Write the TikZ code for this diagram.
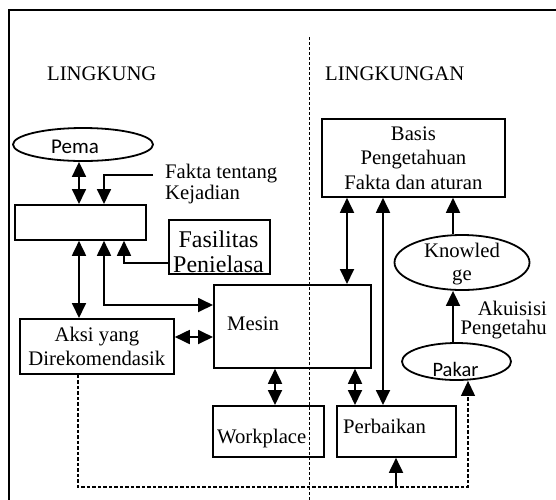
\documentclass[tikz,border=0pt]{standalone}
\usepackage{fontspec}
\setmainfont{Liberation Serif}
\newfontfamily\calfont{Carlito}
\usetikzlibrary{arrows.meta,shapes.geometric}
\begin{document}
\begin{tikzpicture}[x=1pt,y=-1pt,
  bighead/.tip={Triangle[length=15pt,width=14pt]},
  box/.style={draw, line width=1.8pt, rectangle, inner sep=0pt, anchor=north west, align=center,
    font=\fontsize{20.7}{24.5}\selectfont},
  oval/.style={draw, line width=1.8pt, ellipse, inner sep=0pt},
  txt/.style={inner sep=0pt, font=\fontsize{20.7}{24.5}\selectfont},
  caltxt/.style={inner sep=0pt, font=\calfont\fontsize{20.5}{24}\selectfont},
  both/.style={line width=1.8pt, bighead-bighead},
  one/.style={line width=1.8pt, -bighead},
  dashline/.style={line width=1.1pt, dash pattern=on 3.5pt off 2pt},
]
\useasboundingbox (0,0) rectangle (556,499);
\clip (0,0) rectangle (556,499);
% frame and divider
\draw[line width=2.2pt] (9,10) rectangle (580,520);
\draw[dashline, line width=0.9pt, dash pattern=on 3pt off 2pt] (309,37) -- (309,510);

% titles
\node[txt, anchor=base west] (lk1) at (47,80) {LINGKUNG};
\node[txt, anchor=base west] (lk2) at (325,80) {LINGKUNGAN};

% left side
\node[oval, minimum width=140, minimum height=33] (pema) at (83,144.5) {};
\node[caltxt, anchor=base, font=\calfont\fontsize{21}{24}\selectfont] (pematxt) at (75,153) {Pema};
\node[txt, anchor=north west, align=left, font=\fontsize{20.7}{21}\selectfont] (fakta) at (165,163.5) {Fakta tentang\\Kejadian};
\node[box, minimum width=131, minimum height=35] (box1) at (14,204) {};
\node[box, minimum width=101, minimum height=54] (fasil) at (168,219) {};
\node[txt, anchor=north, align=center, font=\fontsize{24}{25}\selectfont] (fasiltxt) at (218.5,230.5) {Fasilitas\\Penielasa};
\node[box, minimum width=154, minimum height=55] (aksi) at (19,318) {Aksi yang\\Direkomendasik};
\node[box, minimum width=157, minimum height=83] (mesin) at (213,284) {};
\node[txt, anchor=base west] (mesintxt) at (227,330) {Mesin};
\node[box, minimum width=111, minimum height=51] (work) at (212,405) {};
\node[txt, anchor=base west] (worktxt) at (217,443) {Workplace};

% right side
\node[box, minimum width=183, minimum height=78] (basis) at (321,118) {Basis\\Pengetahuan\\Fakta dan aturan};
\node[oval, minimum width=135, minimum height=55] (know) at (462,262.5) {};
\node[txt, align=center, font=\fontsize{20.7}{23}\selectfont] (knowtxt) at (462,264) {Knowled\\ge};
\node[oval, minimum width=109, minimum height=37] (pakar) at (456.5,361.5) {};
\node[caltxt, anchor=base] (pakartxt) at (455.5,376.5) {Pakar};
\node[txt, anchor=north east, align=right, font=\fontsize{20.7}{19}\selectfont] (akuisisi) at (547,301) {Akuisisi\\Pengetahu};
\node[box, minimum width=119, minimum height=51] (perb) at (336,405) {};
\node[txt, anchor=base west] (perbtxt) at (343,433) {Perbaikan};

% helper coordinates
\coordinate (c78) at (78,0);
\coordinate (c79) at (79,0);
\coordinate (c104) at (104,0);
\coordinate (c124) at (124,0);
\coordinate (c275) at (275,0);
\coordinate (c347) at (347,0);
\coordinate (c355) at (355,0);
\coordinate (c383) at (383,0);
\coordinate (c453) at (453,0);
\coordinate (c468) at (468,0);
\coordinate (r263) at (0,263);
\coordinate (r305) at (0,305);
\coordinate (r337) at (0,337);
\coordinate (r487) at (0,487);
\coordinate (fk) at (153,175);
\coordinate (pb) at (396,488);

% connectors
\draw[both] (pema.south -| c79) -- (box1.north -| c79);
\draw[one] (fk) -| (box1.north -| c104);
\draw[both] (box1.south -| c79) -- (aksi.north -| c79);
\draw[both] (box1.south -| c104) |- (mesin.west |- r305);
\draw[one] (fasil.west |- r263) -| (box1.south -| c124);
\draw[both] (aksi.east |- r337) -- (mesin.west |- r337);
\draw[both] (mesin.south -| c275) -- (work.north -| c275);
\draw[both] (mesin.south -| c355) -- (perb.north -| c355);
\draw[both] (basis.south -| c347) -- (mesin.north -| c347);
\draw[both] (basis.south -| c383) -- (perb.north -| c383);
\draw[one] (know.north -| c453) -- (basis.south -| c453);
\draw[one] (pakar.north -| c453) -- (know.south -| c453);
\draw[dashline, -bighead] (aksi.south -| c78) |- (r487 -| c468) -- (pakar.south -| c468);
\draw[one] (pb) -- (perb.south -| pb);
\end{tikzpicture}
\end{document}
